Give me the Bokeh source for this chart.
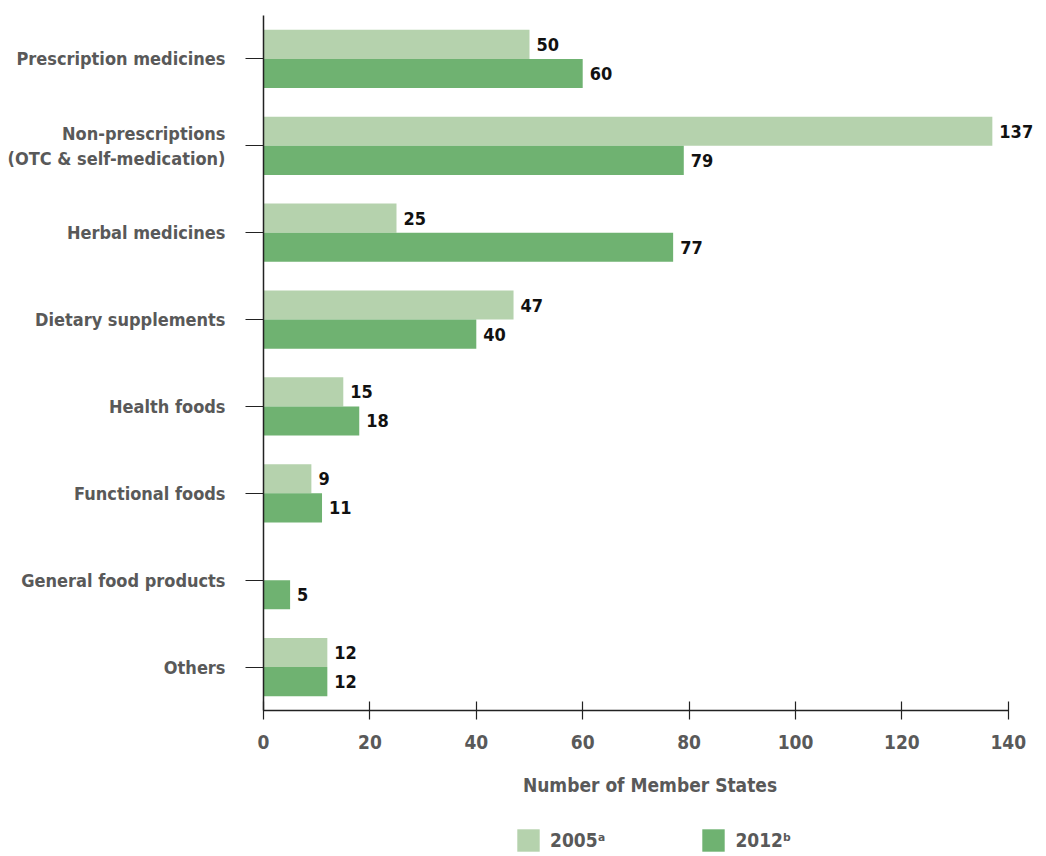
from bokeh.plotting import figure
from bokeh.layouts import column
from bokeh.models import ColumnDataSource, FactorRange, Range1d, FixedTicker, Legend, LegendItem
from bokeh.transform import dodge
from bokeh.core.properties import value
from bokeh.embed import file_html
from bokeh.resources import INLINE

categories = ["Prescription medicines", "Non-prescriptions\n(OTC & self-medication)",
              "Herbal medicines", "Dietary supplements", "Health foods",
              "Functional foods", "General food products", "Others"]
v2005 = [50, 137, 25, 47, 15, 9, None, 12]
v2012 = [60, 79, 77, 40, 18, 11, 5, 12]
x_ticks = [0, 20, 40, 60, 80, 100, 120, 140]
legend_labels = ["2005ᵃ", "2012ᵇ"]

FONT = "DejaVu Sans Condensed"
LIGHT = "#b5d2ad"
DARK = "#6fb271"
GRAY = "#595959"

src05 = ColumnDataSource(dict(cat=categories, v=[0 if x is None else x for x in v2005]))
src12 = ColumnDataSource(dict(cat=categories, v=v2012))
lab05 = ColumnDataSource(dict(cat=[c for c, x in zip(categories, v2005) if x is not None],
                              v=[x for x in v2005 if x is not None],
                              t=[str(x) for x in v2005 if x is not None]))
lab12 = ColumnDataSource(dict(cat=categories, v=v2012, t=[str(x) for x in v2012]))

W = 1036
p = figure(y_range=FactorRange(factors=categories[::-1]), x_range=Range1d(0, 145.3),
           frame_width=773, frame_height=695, output_backend="svg", toolbar_location=None,
           min_border_left=263, min_border_right=0, min_border_top=15, min_border_bottom=0)

bh = 0.335
r05 = p.hbar(y=dodge("cat", bh / 2, range=p.y_range), right="v", left=0, height=bh,
             source=src05, color=LIGHT, line_color=None)
r12 = p.hbar(y=dodge("cat", -bh / 2, range=p.y_range), right="v", left=0, height=bh,
             source=src12, color=DARK, line_color=None)

for s, d in ((lab05, bh / 2), (lab12, -bh / 2)):
    p.text(x="v", y=dodge("cat", d, range=p.y_range), text="t", source=s, x_offset=7,
           text_baseline="middle", text_align="left", text_font=value(FONT),
           text_font_style="bold", text_font_size="18px", text_color="#111111")

p.xgrid.visible = False
p.ygrid.visible = False
p.outline_line_color = None

xa = p.xaxis[0]
xa.ticker = FixedTicker(ticks=x_ticks)
xa.bounds = (0, 140)
xa.minor_tick_line_color = None
xa.major_tick_in = 9
xa.major_tick_out = 9
xa.axis_line_width = 1.5
xa.major_tick_line_width = 1.2
xa.axis_line_color = "#222222"
xa.major_tick_line_color = "#222222"
xa.major_label_text_font = FONT
xa.major_label_text_font_style = "bold"
xa.major_label_text_font_size = "19px"
xa.major_label_text_color = GRAY
xa.major_label_standoff = 15
xa.axis_label = "Number of Member States"
xa.axis_label_text_font = FONT
xa.axis_label_text_font_style = "bold"
xa.axis_label_text_font_size = "19px"
xa.axis_label_text_color = GRAY
xa.axis_label_standoff = 22

ya = p.yaxis[0]
ya.major_tick_in = 0
ya.major_tick_out = 18
ya.axis_line_width = 1.5
ya.major_tick_line_width = 1.2
ya.axis_line_color = "#222222"
ya.major_tick_line_color = "#222222"
ya.major_label_text_font = FONT
ya.major_label_text_font_style = "bold"
ya.major_label_text_font_size = "18px"
ya.major_label_text_color = GRAY
ya.major_label_standoff = 20

# legend strip below the chart (zero-size proxy bars carry the legend swatches)
p2 = figure(width=W, height=56, output_backend="svg", toolbar_location=None,
            min_border=0, x_range=Range1d(0, 1), y_range=Range1d(0, 1))
p2.axis.visible = False
p2.grid.visible = False
p2.outline_line_color = None
d05 = p2.hbar(y=[0], left=[0], right=[0], height=0, color=LIGHT, line_color=None)
d12 = p2.hbar(y=[0], left=[0], right=[0], height=0, color=DARK, line_color=None)

lg = Legend(items=[LegendItem(label=legend_labels[0], renderers=[d05]),
                   LegendItem(label=legend_labels[1], renderers=[d12])],
            location=(251, 0), orientation="horizontal", spacing=94,
            glyph_width=28, glyph_height=28, label_standoff=8, padding=0, margin=0,
            border_line_color=None, background_fill_alpha=0,
            label_text_font=FONT, label_text_font_style="bold",
            label_text_font_size="19px", label_text_color=GRAY)
p2.add_layout(lg, "center")

open("out.html", "w").write(file_html(column(p, p2, spacing=0), INLINE))
